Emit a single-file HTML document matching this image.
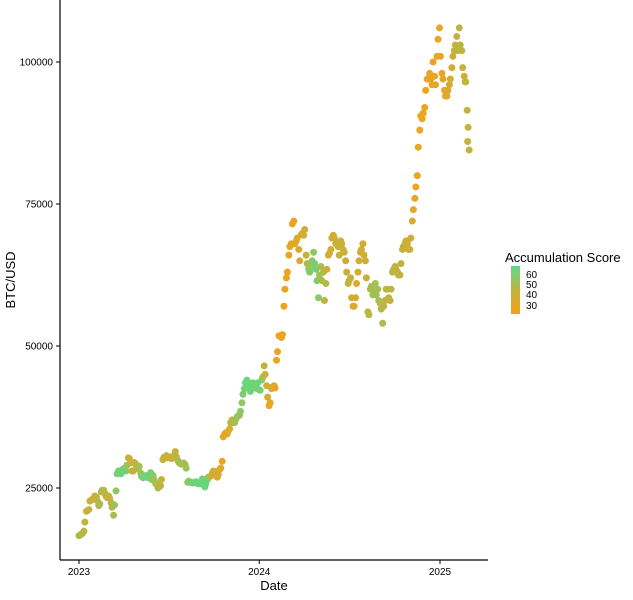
<!DOCTYPE html>
<html><head><meta charset="utf-8"><style>
body{margin:0;background:#fff;}
svg text{font-family:"Liberation Sans",Arial,sans-serif;}
</style></head><body>
<svg id="chart" width="633" height="595" viewBox="0 0 633 595" xmlns="http://www.w3.org/2000/svg">
<defs><linearGradient id="lg" x1="0" y1="1" x2="0" y2="0">
<stop offset="0" stop-color="#f6a01a"/><stop offset="0.5" stop-color="#c2b33e"/><stop offset="1" stop-color="#55dd88"/></linearGradient></defs>
<g id="points"></g>
<line x1="60" y1="0" x2="60" y2="560" stroke="#000" stroke-width="1.2"/>
<line x1="60" y1="560" x2="488" y2="560" stroke="#000" stroke-width="1.2"/>
<g id="yticks"></g>
<g id="xticks"></g>
<text x="274" y="590" font-size="13" text-anchor="middle">Date</text>
<text transform="translate(15,280) rotate(-90)" font-size="13" text-anchor="middle">BTC/USD</text>
<g>
<text x="505" y="262" font-size="13">Accumulation Score</text>
<rect x="511" y="266" width="9" height="48" fill="url(#lg)"/>
<text x="526" y="278" font-size="10">60</text>
<text x="526" y="288" font-size="10">50</text>
<text x="526" y="298" font-size="10">40</text>
<text x="526" y="309" font-size="10">30</text>
</g>
</svg>
<script>
const dayOffsets=[0,5,10,15,20,25,30,35,40,45,50,55,60,65,70,75,80,85,90,95,100,105,110,115,120,125,130,135,140,145,150,155,160,165,170,175,180,185,190,195,200,205,210,215,220,225,230,235,240,245,250,255,260,265,270,275,280,285,290,295,300,305,310,315,320,325,330,335,340,345,350,355,360,365,370,375,380,385,390,395,400,405,410,415,420,425,430,435,440,445,450,455,460,465,470,475,480,485,490,495,500,505,510,515,520,525,530,535,540,545,550,555,560,565,570,575,580,585,590,595,600,605,610,615,620,625,630,635,640,645,650,655,660,665,670,675,680,685,690,695,700,705,710,715,720,725,730,735,740,745,750,755,760,765,770,775,780,783,786,788,790];
const prices=[16.6,16.9,17.4,20.9,21.2,22.9,23.1,23.4,21.9,24.3,24.6,23.5,23.6,22.4,20.2,24.5,28.0,27.5,28.4,28.0,30.3,29.4,28.0,29.2,28.4,27.6,26.8,27.2,26.8,27.7,27.2,25.8,25.0,25.4,30.0,30.5,30.3,30.3,30.6,31.4,29.9,29.3,29.3,29.1,26.0,26.0,25.9,26.0,25.8,25.9,26.6,25.2,26.5,27.0,27.6,27.9,26.9,28.3,29.7,34.5,34.5,35.4,37.0,36.5,37.5,37.8,40.0,42.5,44.0,43.0,42.6,43.0,42.5,42.3,44.0,46.5,43.0,39.5,42.5,43.0,47.5,51.8,51.5,57.0,62.0,66.0,68.0,72.0,68.5,67.0,69.6,69.5,66.0,63.5,64.0,66.5,63.5,58.5,64.0,63.0,61.0,66.0,67.0,69.5,68.0,67.5,68.5,67.0,65.0,61.0,62.0,57.0,58.5,63.0,66.5,68.0,65.0,56.0,60.0,59.0,61.0,60.0,57.5,54.0,58.0,60.0,58.0,63.0,64.0,63.0,62.5,67.0,68.0,68.0,67.0,72.0,76.0,80.0,88.0,90.0,92.0,97.0,98.0,96.0,97.5,101.0,106.0,98.0,95.0,94.0,96.0,99.0,102.0,104.5,106.0,102.0,97.5,96.5,91.5,88.5,84.5];
const scores=[48,48,47,45,42,40,42,44,48,50,46,45,44,47,50,55,60,62,60,58,45,40,42,44,48,52,60,62,60,58,55,50,48,45,45,42,40,42,46,42,50,52,50,48,55,58,58,60,62,62,60,62,60,45,40,38,38,35,30,30,32,38,45,50,52,55,55,60,62,62,60,58,62,60,55,45,42,30,35,35,28,28,30,28,28,30,30,32,35,36,38,40,40,55,58,55,58,55,50,45,48,40,38,38,40,42,45,42,40,45,42,38,35,38,40,38,40,45,48,50,52,50,48,48,45,45,46,48,45,45,45,45,42,40,42,38,30,30,30,30,28,30,32,30,30,33,32,30,32,35,38,40,42,45,47,45,42,45,45,45,45];
const dayOffsets2=[2,7,12,17,22,27,32,37,42,47,52,57,62,67,72,77,82,87,92,97,102,107,112,117,122,127,132,137,142,147,152,157,162,167,172,177,182,187,192,197,202,207,212,217,222,227,232,237,242,247,252,257,262,267,272,277,282,287,292,297,302,307,312,317,322,327,332,337,342,347,352,357,362,367,372,377,382,387,392,397,402,407,412,417,422,427,432,437,442,447,452,457,462,467,472,477,482,487,492,497,502,507,512,517,522,527,532,537,542,547,552,557,562,567,572,577,582,587,592,597,602,607,612,617,622,627,632,637,642,647,652,657,662,667,672,677,682,687,692,697,702,707,712,717,722,727,732,737,742,747,752,757,762,767,772,777,782,787];
const prices2=[16.7,17.0,19.0,21.0,22.7,23.0,23.6,22.8,22.2,24.6,24.1,23.3,23.2,21.6,22.0,27.5,27.8,28.2,28.0,29.0,30.2,28.0,29.5,28.9,28.8,27.0,27.0,26.9,27.3,26.5,26.5,25.6,25.8,26.5,30.4,30.7,30.4,30.2,30.3,30.5,29.5,29.2,29.4,28.5,26.2,26.0,25.9,26.1,25.8,25.7,26.2,25.8,26.9,27.1,28.0,27.2,27.4,28.5,34.0,34.7,35.0,36.5,36.5,37.0,37.7,38.5,41.5,43.5,43.5,42.0,43.5,42.8,43.5,42.2,44.5,45.0,41.0,40.0,42.8,42.6,49.0,51.7,52.0,60.0,63.0,67.5,71.5,68.0,69.0,65.0,69.8,70.5,64.5,63.0,65.0,64.5,61.5,62.5,61.5,58.0,63.5,66.3,69.0,69.0,68.0,66.0,68.0,66.5,63.0,61.5,58.5,57.0,61.0,65.0,67.0,66.0,62.0,55.5,60.5,59.5,59.0,58.0,56.5,57.0,60.0,58.5,60.0,63.5,63.5,62.5,64.5,67.5,68.5,67.0,69.0,74.0,78.0,85.0,90.5,91.0,95.0,97.0,97.0,100.0,96.0,104.0,101.0,97.0,94.0,95.0,97.0,101.0,103.0,102.0,103.0,99.0,96.5,86.0];
const scores2=[48,47,46,44,41,41,43,46,49,48,46,44,45,48,52,58,61,61,59,52,42,41,43,46,50,56,61,61,59,56,52,49,46,45,43,41,41,44,44,46,51,51,49,52,56,58,59,61,62,61,61,61,52,42,39,38,36,32,30,31,35,42,48,51,54,55,58,61,62,61,59,60,61,58,50,43,36,32,35,31,28,29,29,28,29,30,31,34,35,37,39,40,48,57,56,57,56,52,47,46,44,39,38,39,41,44,43,41,42,43,40,36,36,39,39,39,43,47,49,51,51,49,48,46,45,45,47,46,45,45,45,43,41,41,40,34,30,30,30,29,29,31,31,30,31,32,31,31,33,36,39,41,44,46,46,43,44,45];
const yTickValues=[25000,50000,75000,100000];
const yTickLabels=["25000","50000","75000","100000"];
const xTickDays=[0,365,731];
const xTickLabels=["2023","2024","2025"];
const ns="http://www.w3.org/2000/svg";
function xScale(d){return 79+d*(440-79)/731;}
function yScale(v){return 488-(v-25000)*(488-62)/75000;}
function lerp(a,b,t){return a.map((x,i)=>Math.round(x+(b[i]-x)*t));}
function color(s){const o=[246,160,26],m=[194,179,62],g=[85,221,136];
 let t=(s-25)/40;t=Math.max(0,Math.min(1,t));
 const c=t<0.5?lerp(o,m,t*2):lerp(m,g,(t-0.5)*2);return `rgb(${c.join(',')})`;}
const pg=document.getElementById('points');
function addPoint(d,p,s){
 const c=document.createElementNS(ns,'circle');
 
 
 c.setAttribute('cx',xScale(d));c.setAttribute('cy',yScale(p*1000));
 c.setAttribute('r',3.5);c.setAttribute('fill',color(s));
 pg.appendChild(c);
}
dayOffsets.forEach((d,i)=>addPoint(d,prices[i],scores[i]));
dayOffsets2.forEach((d,i)=>addPoint(d,prices2[i],scores2[i]));
const yg=document.getElementById('yticks');
yTickValues.forEach((v,i)=>{
 const y=yScale(v);
 const l=document.createElementNS(ns,'line');
 
 
 l.setAttribute('x1',56);l.setAttribute('x2',60);l.setAttribute('y1',y);l.setAttribute('y2',y);l.setAttribute('stroke','#000');
 yg.appendChild(l);
 const t=document.createElementNS(ns,'text');
 
 
 t.setAttribute('x',53);t.setAttribute('y',y+3.5);t.setAttribute('text-anchor','end');t.setAttribute('font-size','10');
 t.textContent=yTickLabels[i];yg.appendChild(t);
});
const xg=document.getElementById('xticks');
xTickDays.forEach((d,i)=>{
 const x=xScale(d);
 const l=document.createElementNS(ns,'line');
 
 
 l.setAttribute('x1',x);l.setAttribute('x2',x);l.setAttribute('y1',560);l.setAttribute('y2',564);l.setAttribute('stroke','#000');
 xg.appendChild(l);
 const t=document.createElementNS(ns,'text');
 
 
 t.setAttribute('x',x);t.setAttribute('y',575);t.setAttribute('text-anchor','middle');t.setAttribute('font-size','10');
 t.textContent=xTickLabels[i];xg.appendChild(t);
});
</script>
</body></html>
